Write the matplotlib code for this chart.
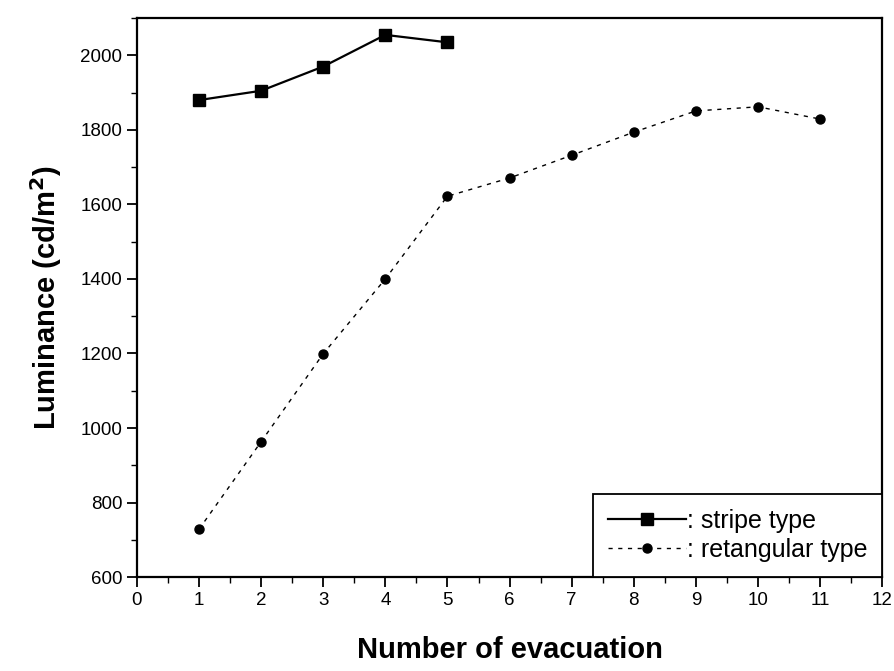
import matplotlib.pyplot as plt
from matplotlib.ticker import MultipleLocator

plt.rcParams['font.family'] = ['Liberation Sans', 'DejaVu Sans']

# data
stripe_x = [1, 2, 3, 4, 5]
stripe_y = [1880, 1905, 1970, 2055, 2035]
rect_x = [1, 2, 3, 4, 5, 6, 7, 8, 9, 10, 11]
rect_y = [728, 963, 1199, 1400, 1622, 1671, 1732, 1794, 1851, 1862, 1829]

fig = plt.figure(figsize=(8.94, 6.71), dpi=100)
ax = fig.add_axes([0.153, 0.140, 0.834, 0.833])

ax.plot(stripe_x, stripe_y, color='black', lw=1.6, marker='s', ms=9,
        label=': stripe type')
ax.plot(rect_x, rect_y, color='black', lw=1.0, ls=(0, (3, 4)), marker='o', ms=6.5,
        label=': retangular type')

ax.set_xlim(0, 12)
ax.set_ylim(600, 2100)
ax.xaxis.set_major_locator(MultipleLocator(1))
ax.xaxis.set_minor_locator(MultipleLocator(0.5))
ax.yaxis.set_major_locator(MultipleLocator(200))
ax.yaxis.set_minor_locator(MultipleLocator(100))
ax.tick_params(which='major', direction='out', length=7, width=1.3, labelsize=13.5)
ax.tick_params(which='minor', direction='out', length=4, width=1)
for s in ax.spines.values():
    s.set_linewidth(1.6)

ax.set_xlabel('Number of evacuation', fontsize=21, fontweight='bold', labelpad=20)
ax.set_ylabel('Luminance (cd/m$^\\mathbf{2}$)', fontsize=21, fontweight='bold', labelpad=12)

leg = ax.legend(loc='lower right', borderaxespad=0, fontsize=18, handlelength=3.1,
                handletextpad=0.05, labelspacing=0.2, borderpad=0.6,
                fancybox=False, edgecolor='black', framealpha=1)
leg.get_frame().set_linewidth(1.3)

fig.savefig('out.png', dpi=100)
